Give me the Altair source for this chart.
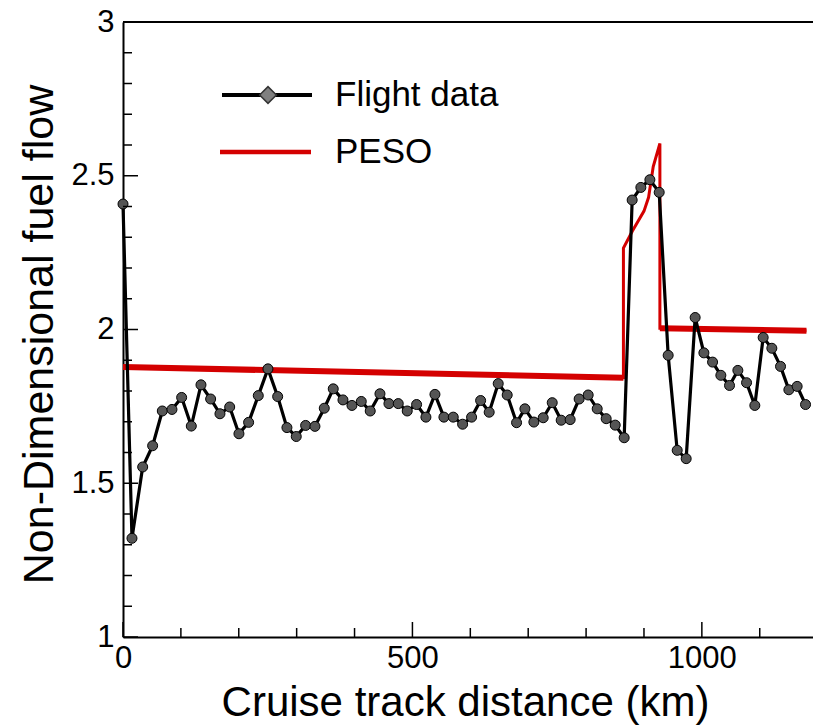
import altair as alt
import pandas as pd

# ---- data ----
flight_x = [0, 15.5, 34, 51.2, 67.9, 84.6, 101.3, 118, 134.7, 151.4,
            167.5, 184.3, 200.3, 217, 233.7, 250.4, 267.2, 283.2, 299.3, 315.5,
            331.6, 347.7, 363.2, 380, 395.5, 411.6, 427.1, 443.9, 459.4, 475.5,
            491, 507.2, 523.3, 538.9, 554.4, 570.5, 586.7, 602.2, 617.8, 632.6,
            648.2, 663.7, 679.9, 694.3, 709.8, 725.9, 741.5, 757, 772.5, 788,
            803.6, 819.2, 834.7, 850.3, 865.8, 879.6, 894.6, 910.2, 926.3, 941.8,
            957.4, 972.9, 988.4, 1003.5, 1018.5, 1032.8, 1047.8, 1062.2, 1077.2, 1091.5,
            1105.9, 1120.9, 1135.9, 1150.3, 1164.6, 1179.1]
flight_y = [2.408, 1.321, 1.553, 1.622, 1.735, 1.740, 1.779, 1.686, 1.820, 1.774,
            1.726, 1.748, 1.661, 1.698, 1.785, 1.872, 1.782, 1.681, 1.652, 1.688,
            1.685, 1.744, 1.807, 1.771, 1.753, 1.766, 1.735, 1.791, 1.759, 1.759,
            1.735, 1.756, 1.715, 1.789, 1.715, 1.715, 1.692, 1.715, 1.769, 1.731,
            1.824, 1.787, 1.697, 1.742, 1.699, 1.713, 1.762, 1.705, 1.707, 1.774,
            1.787, 1.742, 1.710, 1.689, 1.648, 2.421, 2.462, 2.487, 2.446, 1.916,
            1.607, 1.580, 2.039, 1.924, 1.894, 1.851, 1.818, 1.867, 1.827, 1.753,
            1.974, 1.939, 1.880, 1.804, 1.815, 1.756]

peso_x = [0, 864.5, 864.5, 880, 900, 908, 916, 927.5, 927.5, 1180.7]
peso_y = [1.878, 1.843, 2.265, 2.32, 2.385, 2.43, 2.53, 2.605, 2.004, 1.996]

series_names = ["Flight data", "PESO"]

x_major = [0, 500, 1000]
x_minor = [100, 200, 300, 400, 600, 700, 800, 900, 1100]
y_major = [1, 1.5, 2, 2.5, 3]
y_minor = [1.1, 1.2, 1.3, 1.4, 1.6, 1.7, 1.8, 1.9, 2.1, 2.2, 2.3, 2.4, 2.6, 2.7, 2.8, 2.9]

x_title = "Cruise track distance (km)"
y_title = "Non-Dimensional fuel flow"

# ---- layout / style ----
W, H = 690, 615
X_MAX = 1192
RED = "#d40000"
FONT = "Liberation Sans"

xs = alt.Scale(domain=[0, X_MAX], nice=False, zero=False)
ys = alt.Scale(domain=[1, 3], nice=False, zero=False)

flight = pd.DataFrame({"x": flight_x, "y": flight_y})
peso = pd.DataFrame({"x": peso_x, "y": peso_y, "i": list(range(len(peso_x)))})
n_peso = len(peso_x)

x_axis = alt.Axis(values=x_major, title=x_title, format="d", ticks=False, grid=False,
                  labelFlush=False, labelOverlap=False, labelPadding=6,
                  domainColor="black", domainWidth=2,
                  labelColor="black", labelFont=FONT, labelFontSize=31,
                  titleColor="black", titleFont=FONT, titleFontSize=42, titleFontWeight="normal",
                  titleX=342, titleY=78, titleBaseline="alphabetic", titleAlign="center")
y_axis = alt.Axis(values=y_major, title=y_title, format=".1~f", ticks=False, grid=False,
                  labelOverlap=False, labelPadding=9,
                  domainColor="black", domainWidth=2,
                  labelColor="black", labelFont=FONT, labelFontSize=31,
                  titleColor="black", titleFont=FONT, titleFontSize=43, titleFontWeight="normal",
                  titleX=-71, titleY=312, titleAngle=270,
                  titleBaseline="alphabetic", titleAlign="center")

peso_thin = alt.Chart(peso).mark_line(color=RED, strokeWidth=3).encode(
    x=alt.X("x:Q", scale=xs),
    y=alt.Y("y:Q", scale=ys),
    order="i:Q",
)
peso_thick = alt.Chart(peso).transform_filter(
    f"datum.i <= 1 || datum.i >= {n_peso - 2}"
).transform_calculate(grp="datum.i <= 1 ? 0 : 1").mark_line(color=RED, strokeWidth=6).encode(
    x=alt.X("x:Q", scale=xs),
    y=alt.Y("y:Q", scale=ys),
    detail="grp:N",
    order="i:Q",
)
flight_line = alt.Chart(flight).mark_line(color="black", strokeWidth=3.2).encode(
    x=alt.X("x:Q", scale=xs, axis=x_axis),
    y=alt.Y("y:Q", scale=ys, axis=y_axis),
)
flight_pts = alt.Chart(flight).mark_point(
    shape="circle", filled=True, fill="#555555", stroke="black", strokeWidth=1,
    size=100, opacity=1,
).encode(
    x=alt.X("x:Q", scale=xs),
    y=alt.Y("y:Q", scale=ys),
)

def xticks(vals, length):
    return alt.Chart(pd.DataFrame({"x": vals})).mark_rule(color="black", strokeWidth=1.5).encode(
        x=alt.X("x:Q", scale=xs), y=alt.value(H), y2=alt.value(H - length))

def yticks(vals, length):
    return alt.Chart(pd.DataFrame({"y": vals})).mark_rule(color="black", strokeWidth=1.5).encode(
        y=alt.Y("y:Q", scale=ys), x=alt.value(0), x2=alt.value(length))

top_border = alt.Chart(pd.DataFrame({"v": [0]})).mark_rule(color="black", strokeWidth=2).encode(
    x=alt.value(0), x2=alt.value(W), y=alt.value(0))

leg = pd.DataFrame({"label": series_names})
leg_f = alt.Chart(leg).transform_filter(alt.datum.label == series_names[0])
leg_p = alt.Chart(leg).transform_filter(alt.datum.label == series_names[1])

leg_line1 = leg_f.mark_rule(color="black", strokeWidth=4).encode(
    x=alt.value(99), x2=alt.value(189), y=alt.value(73))
leg_dia = leg_f.mark_point(shape="diamond", filled=True, fill="#808080", stroke="#333333",
                           strokeWidth=1.5, size=280, opacity=1).encode(
    x=alt.value(145), y=alt.value(73))
leg_text1 = leg_f.mark_text(align="left", baseline="alphabetic", fontSize=35, font=FONT,
                            color="black").encode(
    x=alt.value(212), y=alt.value(84), text="label:N")
leg_line2 = leg_p.mark_rule(color=RED, strokeWidth=4.5).encode(
    x=alt.value(97), x2=alt.value(188), y=alt.value(130))
leg_text2 = leg_p.mark_text(align="left", baseline="alphabetic", fontSize=35, font=FONT,
                            color="black").encode(
    x=alt.value(212), y=alt.value(141), text="label:N")

chart = alt.layer(
    peso_thin, peso_thick, flight_line, flight_pts,
    xticks(x_major, 15), xticks(x_minor, 9), yticks(y_major, 15), yticks(y_minor, 9),
    top_border, leg_line1, leg_dia, leg_text1, leg_line2, leg_text2,
).properties(
    width=W, height=H,
    background="white",
    autosize=alt.AutoSizeParams(type="none"),
    padding={"left": 123, "top": 22, "right": 0, "bottom": 90},
).configure_view(stroke=None)

chart.save("out.html", embed_options={"renderer": "svg", "actions": False})
